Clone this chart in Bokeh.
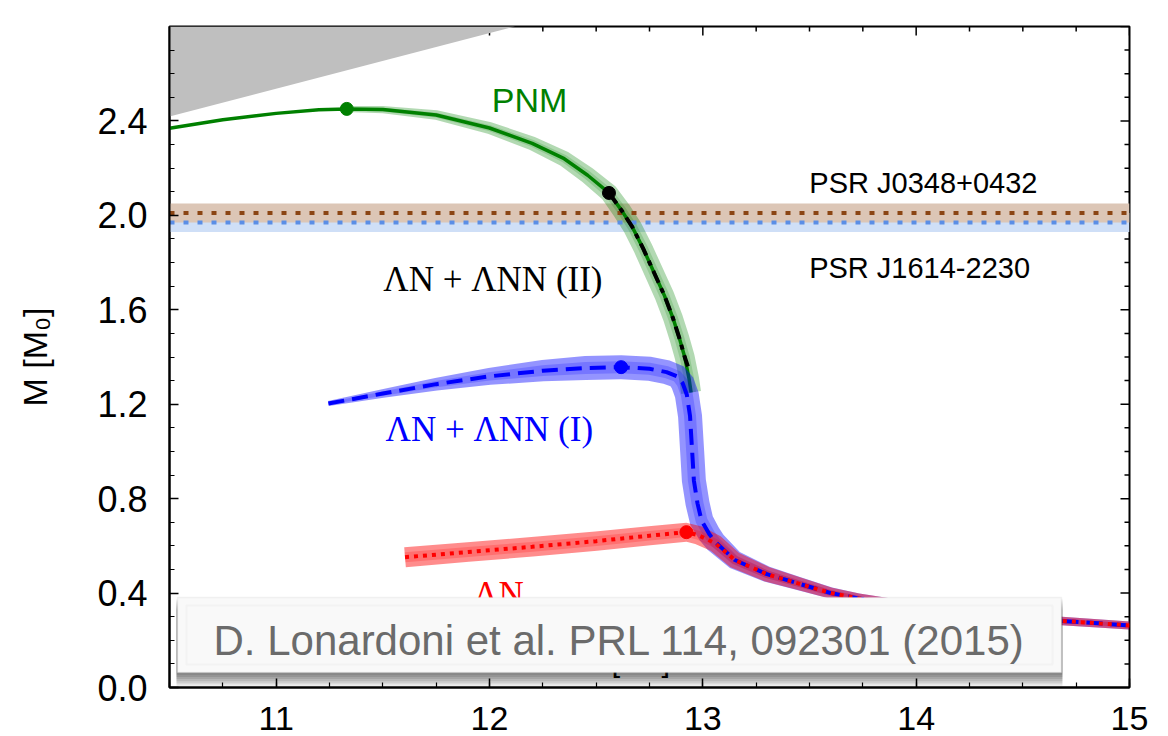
import numpy as np
from bokeh.plotting import figure
from bokeh.models import (Range1d, SingleIntervalTicker, PrintfTickFormatter, Label, BoxAnnotation)
from bokeh.embed import file_html
from bokeh.resources import INLINE

# ---------------- data (R in km, M in solar masses) ----------------
pnm_r = [10.50, 10.75, 11.00, 11.20, 11.331, 11.50, 11.75, 12.00, 12.20, 12.35,
         12.46, 12.56, 12.62, 12.67, 12.72, 12.77, 12.82, 12.86, 12.89, 12.915, 12.935, 12.945]
pnm_m = [2.369, 2.405, 2.432, 2.447, 2.451, 2.448, 2.425, 2.37, 2.305, 2.24,
         2.17, 2.095, 2.02, 1.95, 1.86, 1.76, 1.66, 1.565, 1.48, 1.40, 1.31, 1.25]

ann2_r = [12.56, 12.62, 12.67, 12.72, 12.77, 12.82, 12.86, 12.89, 12.915, 12.93]
ann2_m = [2.095, 2.02, 1.95, 1.86, 1.76, 1.66, 1.565, 1.48, 1.40, 1.36]

ann1_r = [11.245, 11.50, 11.75, 12.00, 12.25, 12.45, 12.617, 12.75, 12.83, 12.88,
          12.905, 12.925, 12.94, 12.95, 12.958, 12.975, 12.994, 13.03, 13.06,
          13.15, 13.30, 13.45, 13.60, 13.73, 14.00, 14.30, 14.70, 15.00]
ann1_m = [1.203, 1.245, 1.285, 1.318, 1.342, 1.353, 1.357, 1.35, 1.336, 1.318,
          1.29, 1.24, 1.15, 1.0, 0.877, 0.78, 0.707, 0.65, 0.615,
          0.54, 0.48, 0.44, 0.40, 0.377, 0.34, 0.305, 0.281, 0.263]

an_r = [11.604, 11.90, 12.20, 12.50, 12.75, 12.923, 12.98, 13.06, 13.15, 13.30,
        13.45, 13.60, 13.73, 14.00, 14.30, 14.70, 15.00]
an_m = [0.552, 0.574, 0.596, 0.620, 0.643, 0.658, 0.645, 0.61, 0.54, 0.48,
        0.44, 0.40, 0.377, 0.34, 0.305, 0.281, 0.263]

maxmass_r = [11.331, 12.56, 12.617, 12.923]
maxmass_m = [2.451, 2.095, 1.357, 0.658]
maxmass_c = ["#008000", "#000000", "#0000ff", "#ff0000"]

causal_r = [10.5, 10.5, 12.12]
causal_m = [2.419, 2.8, 2.8]

psr_names = ["PSR J0348+0432", "PSR J1614-2230"]
psr_mass = [2.01, 1.97]
psr_err = [0.04, 0.04]

x_major, x_minor_n = 1.0, 4
y_major, y_minor_n = 0.4, 4
x_lo, x_hi, y_lo, y_hi = 10.5, 15.0, 0.0, 2.8

# ---------------- figure ----------------
FONT = "Liberation Sans"
SERIF = "Liberation Serif"
FRAME_W, FRAME_H = 960, 661

p = figure(width=1168, height=736, x_range=Range1d(x_lo, x_hi), y_range=Range1d(y_lo, y_hi),
           output_backend="svg", toolbar_location=None,
           min_border_left=169, min_border_right=39, min_border_top=26, min_border_bottom=49)
p.grid.visible = False
p.outline_line_color = "black"
p.outline_line_width = 2
px_x = (x_hi - x_lo) / FRAME_W
px_y = (y_hi - y_lo) / FRAME_H

p.xaxis.ticker = SingleIntervalTicker(interval=x_major, num_minor_ticks=x_minor_n)
p.yaxis.ticker = SingleIntervalTicker(interval=y_major, num_minor_ticks=y_minor_n)
p.xaxis.formatter = PrintfTickFormatter(format="%d")
p.yaxis.formatter = PrintfTickFormatter(format="%.1f")
for ax in p.xaxis + p.yaxis:
    ax.axis_line_width = 2
    ax.major_tick_in = 9
    ax.major_tick_out = 0
    ax.minor_tick_in = 5
    ax.minor_tick_out = 0
    ax.major_tick_line_width = 1.5
    ax.minor_tick_line_width = 1.2
    ax.major_label_text_font = FONT
    ax.major_label_text_color = "black"
p.xaxis.major_label_text_font_size = "34px"
p.xaxis.major_label_standoff = 19
p.yaxis.major_label_text_font_size = "36px"
p.yaxis.major_label_standoff = 22
p.yaxis.axis_label = "M [M\u2080]"
p.yaxis.axis_label_text_font = FONT
p.yaxis.axis_label_text_font_style = "normal"
p.yaxis.axis_label_text_color = "black"
p.yaxis.axis_label_text_font_size = "34px"
p.yaxis.axis_label_standoff = 40

# mirrored ticks on the top and right frame edges
n_x = int(round((x_hi - x_lo) / (x_major / x_minor_n)))
n_y = int(round((y_hi - y_lo) / (y_major / y_minor_n)))
tx = [x_lo + k * x_major / x_minor_n for k in range(1, n_x + 1)]
ty = [y_lo + k * y_major / y_minor_n for k in range(1, n_y + 1)]
tx_len = [9 if abs(v / x_major - round(v / x_major)) < 1e-6 else 5 for v in tx]
ty_len = [9 if abs(v / y_major - round(v / y_major)) < 1e-6 else 5 for v in ty]
p.segment(x0=tx, x1=tx, y0=[y_hi] * len(tx), y1=[y_hi - L * px_y for L in tx_len],
          line_color="black", line_width=1.5)
p.segment(x0=[x_hi] * len(ty), x1=[x_hi - L * px_x for L in ty_len], y0=ty, y1=ty,
          line_color="black", line_width=1.5)

# causality region
p.patch(causal_r, causal_m, fill_color="#bfbfbf", line_color=None)

# pulsar bands (J1614 underneath, J0348 on top)
p.quad(left=[x_lo], right=[x_hi], bottom=[psr_mass[1] - psr_err[1]], top=[psr_mass[1] + psr_err[1]],
       fill_color="#cfdff7", line_color=None)
p.quad(left=[x_lo], right=[x_hi], bottom=[psr_mass[0] - psr_err[0]], top=[psr_mass[0] + psr_err[0]],
       fill_color="#dcc6b6", line_color=None)


def band(r, m, ctrl_r, ctrl_w, color, alpha, scale=1.0):
    """Uncertainty band drawn as a ribbon of given pixel width around the curve."""
    X = np.asarray(r) / px_x
    Y = np.asarray(m) / px_y
    tx_ = np.gradient(X)
    ty_ = np.gradient(Y)
    nrm = np.hypot(tx_, ty_)
    nx, ny = -ty_ / nrm, tx_ / nrm
    h = 0.5 * scale * np.interp(r, ctrl_r, ctrl_w)
    ux, uy = (X + nx * h) * px_x, (Y + ny * h) * px_y
    lx, ly = (X - nx * h) * px_x, (Y - ny * h) * px_y
    p.patch(list(ux) + list(lx[::-1]), list(uy) + list(ly[::-1]),
            fill_color=color, fill_alpha=alpha, line_color=None)


gi = pnm_r.index(11.331)
g_cr, g_cw = [11.331, 11.8, 12.3, 12.6, 12.95], [6, 10, 15, 19, 20]
band(pnm_r[gi:], pnm_m[gi:], g_cr, g_cw, "#008000", 0.3)
band(pnm_r[gi:], pnm_m[gi:], g_cr, g_cw, "#008000", 0.18, 0.5)

# PSR dotted lines
p.line([x_lo, x_hi], [psr_mass[1]] * 2, line_color="#5b8ee6", line_width=4, line_dash="5 9")
p.line([x_lo, x_hi], [psr_mass[0]] * 2, line_color="#8b4513", line_width=4, line_dash="5 9")

# PNM line (under the hyperon bands)
p.line(pnm_r, pnm_m, line_color="#008000", line_width=3.5, line_join="round")

b_cr = [11.245, 11.6, 12.0, 12.4, 13.0, 13.2, 13.7, 15.0]
b_cw = [5, 10, 17, 24, 24, 17, 10, 8]
band(ann1_r, ann1_m, b_cr, b_cw, "#0000ff", 0.42)
band(ann1_r, ann1_m, b_cr, b_cw, "#0000ff", 0.2, 0.5)
r_cr = [11.604, 12.95, 13.2, 13.7, 15.0]
r_cw = [20, 19, 16, 10, 8]
band(an_r, an_m, r_cr, r_cw, "#ff0000", 0.45)
band(an_r, an_m, r_cr, r_cw, "#ff0000", 0.2, 0.5)

# central curves
p.line(ann2_r, ann2_m, line_color="black", line_width=4, line_dash="13 6 5 6")
p.line(ann1_r, ann1_m, line_color="#0000ff", line_width=4, line_dash="16 8")
p.line(an_r, an_m, line_color="#ff0000", line_width=4, line_dash="4 5")

# maximum-mass points
p.scatter(maxmass_r, maxmass_m, size=13, fill_color=maxmass_c, line_color=maxmass_c)

# ---------------- labels (x centre, baseline y) ----------------
labels = [
    (12.188, 2.453, "PNM", "#008000", 34, FONT),
    (14.034, 2.105, psr_names[0], "black", 29, FONT),
    (14.016, 1.745, psr_names[1], "black", 29, FONT),
    (12.016, 1.69, "\u039bN + \u039bNN (II)", "black", 35, SERIF),
    (11.999, 1.055, "\u039bN + \u039bNN (I)", "#0000ff", 35, SERIF),
    (12.042, 0.356, "\u039bN", "#ff0000", 35, SERIF),
    (12.637, 0.0805, "R [km]", "black", 31, FONT),
]
for x, y, t, c, s, f in labels:
    p.add_layout(Label(x=x, y=y + 0.25 * s * px_y, text=t, text_color=c, text_font_size=f"{s}px",
                       text_font=f, text_align="center", text_baseline="alphabetic"))

# ---------------- citation box with drop shadow ----------------
box_l, box_r, box_t, box_b = 10.5375, 14.681, 0.381, 0.0635
for k in range(1, 7):
    p.add_layout(BoxAnnotation(left=box_l - px_x, right=box_r + px_x,
                               top=box_t - px_y * 2 * k, bottom=box_b - px_y * 2.2 * k,
                               fill_color="black", fill_alpha=0.10, line_color=None))
p.add_layout(BoxAnnotation(left=box_l, right=box_r, top=box_t, bottom=box_b,
                           fill_color="#f9f9f9", fill_alpha=1.0,
                           line_color="#d4d4d4", line_width=1.5))
p.add_layout(BoxAnnotation(left=box_l + px_x * 9, right=box_r - px_x * 9,
                           top=box_t - px_y * 8, bottom=box_b + px_y * 8,
                           fill_alpha=0.0, line_color="#e4e4e4", line_width=2))
cite_size = 42
p.add_layout(Label(x=12.609, y=0.1525 + 0.25 * cite_size * px_y,
                   text="D. Lonardoni et al. PRL 114, 092301 (2015)",
                   text_color="#6b6b6b", text_font_size=f"{cite_size}px", text_font=FONT,
                   text_align="center", text_baseline="alphabetic"))

open("out.html", "w").write(file_html(p, INLINE))
